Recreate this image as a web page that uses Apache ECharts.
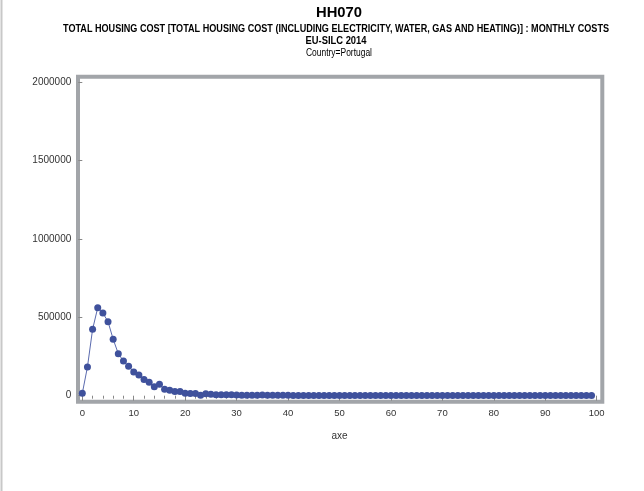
<!DOCTYPE html>
<html>
<head>
<meta charset="utf-8">
<script src="https://cdn.jsdelivr.net/npm/echarts@6/dist/echarts.min.js"></script>
<style>
html,body{margin:0;padding:0;background:#fff;}
#main{width:644px;height:491px;}
</style>
</head>
<body>
<div id="main"></div>
<script>
var titleMain = "HH070";
var titleSub = "TOTAL HOUSING COST [TOTAL HOUSING COST (INCLUDING ELECTRICITY, WATER, GAS AND HEATING)] : MONTHLY COSTS";
var titleSurvey = "EU-SILC 2014";
var titleCountry = "Country=Portugal";
var xName = "axe";
var xTicks = [0, 10, 20, 30, 40, 50, 60, 70, 80, 90, 100];
var yTicks = [0, 500000, 1000000, 1500000, 2000000];
var xValues = [];
for (var i = 0; i < 100; i++) xValues.push(i);
var yValues = [
  15000, 183000, 423000, 561000, 527000, 472000, 360000, 268000, 221000, 187000,
  151000, 132000, 104000, 85000, 57000, 73000, 41000, 34000, 26000, 26000,
  15000, 14000, 14000, 3000, 13000, 9000, 6000, 6000, 6000, 6000,
  5000, 3000, 3000, 3000, 3000, 5000, 3000, 3000, 3000, 3000,
  3000, 2000, 2000, 2000, 2000, 2000, 2000, 2000, 2000, 2000,
  2000, 2000, 2000, 2000, 2000, 2000, 2000, 2000, 2000, 2000,
  2000, 2000, 2000, 2000, 2000, 2000, 2000, 2000, 2000, 2000,
  2000, 2000, 2000, 2000, 2000, 2000, 2000, 2000, 2000, 2000,
  2000, 2000, 2000, 2000, 2000, 2000, 2000, 2000, 2000, 2000,
  2000, 2000, 2000, 2000, 2000, 2000, 2000, 2000, 2000, 2000
];

var fam = "'Liberation Sans', Arial, sans-serif";
var mctx = document.createElement('canvas').getContext('2d');
function fitScale(text, weight, size, target) {
  mctx.font = weight + ' ' + size + 'px ' + fam;
  var w = mctx.measureText(text).width;
  return w > 0 ? target / w : 1;
}
function titleText(text, weight, size, cx, cy, target) {
  return {
    type: 'text', z: 5, silent: true,
    x: cx, y: cy, scaleX: fitScale(text, weight, size, target), scaleY: 1,
    style: {
      text: text, x: 0, y: 0,
      align: 'center', verticalAlign: 'middle',
      textAlign: 'center', textVerticalAlign: 'middle',
      fontFamily: fam, fontSize: size, fontWeight: weight, fill: '#000'
    }
  };
}

var chart = echarts.init(document.getElementById('main'), null, {renderer: 'canvas'});
var pts = xValues.map(function (x, i) { return [x, yValues[i]]; });

chart.setOption({
  animation: false,
  backgroundColor: '#ffffff',
  graphic: [
    {type: 'line', z: 0, silent: true,
     shape: {x1: 1.5, y1: 0, x2: 1.5, y2: 491},
     style: {stroke: '#c8c8c8', lineWidth: 2}},
    {type: 'rect', z: 0, silent: true,
     shape: {x: 78, y: 76.7, width: 524.3, height: 325},
     style: {fill: null, stroke: '#a2a5a9', lineWidth: 4}},
    titleText(titleMain, 'bold', 15, 339, 12.5, 46),
    titleText(titleSub, 'bold', 10, 336, 29, 546),
    titleText(titleSurvey, 'bold', 11, 336, 41, 61),
    titleText(titleCountry, 'normal', 10, 339, 53, 66)
  ],
  grid: {left: 82.3, right: 47.3, top: 82, bottom: 95.3, containLabel: false},
  xAxis: {
    type: 'value', min: xTicks[0], max: xTicks[xTicks.length - 1], interval: 10,
    offset: 7,
    name: xName, nameLocation: 'middle', nameGap: 29,
    nameTextStyle: {fontFamily: fam, fontSize: 10, color: '#333'},
    axisLine: {show: false},
    axisTick: {show: true, length: 5, lineStyle: {color: '#888', width: 1}},
    minorTick: {show: true, splitNumber: 5, length: 3, lineStyle: {color: '#888', width: 1}},
    axisLabel: {fontFamily: fam, fontSize: 9.5, color: '#333', margin: 6},
    splitLine: {show: false}
  },
  yAxis: {
    type: 'value', min: yTicks[0], max: yTicks[yTicks.length - 1], interval: 500000,
    offset: 5,
    axisLine: {show: false},
    axisTick: {show: true, length: 4, lineStyle: {color: '#888', width: 1}},
    axisLabel: {fontFamily: fam, fontSize: 10, color: '#333', margin: 6,
                formatter: function (v) { return String(v); }},
    splitLine: {show: false}
  },
  series: [{
    type: 'line', z: 3,
    data: pts,
    symbol: 'circle', symbolSize: 7,
    itemStyle: {color: '#3f519c', borderWidth: 0},
    lineStyle: {color: '#5a6aae', width: 1}
  }]
});
</script>
</body>
</html>
